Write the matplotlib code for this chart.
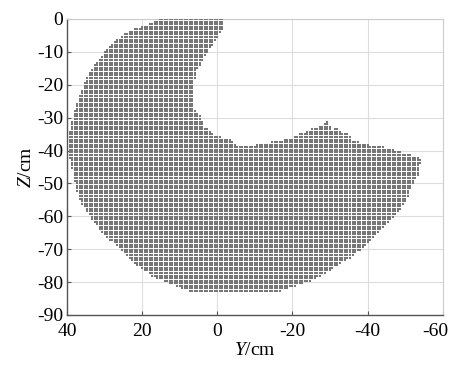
import numpy as np
import matplotlib
matplotlib.use("Agg")
import matplotlib.pyplot as plt
import matplotlib.transforms as mtransforms
from matplotlib.path import Path

# Boundary of the reachable region (Y cm, Z cm)
boundary_y = [15.3, 10.0, 5.0, 1.0, -1.4, -1.2, 1.1, 3.7, 5.5, 6.4, 6.6, 6.4, 4.6, 3.7, 0.2,
              -3.4, -6.0, -10.9, -15.9, -19.4, -21.2, -23.9, -26.5, -28.3, -29.5, -30.5,
              -31.9, -33.2, -34.5, -35.9, -39.0, -41.6, -45.2, -47.9, -54.0, -53.6, -52.2,
              -50.6, -47.9, -43.4, -39.0, -35.4, -30.0, -24.7, -19.4, -14.6, 4.6, 8.1,
              12.6, 17.1, 22.5, 26.8, 31.3, 34.5, 36.6, 38.0, 39.3, 39.3, 38.2, 37.1,
              35.3, 33.1, 29.4, 26.8, 22.7, 18.7]
boundary_z = [0.0, 0.0, 0.0, 0.0, 0.0, -3.3, -7.4, -11.5, -15.5, -19.6, -24.6, -27.7, -29.7,
              -32.7, -35.8, -36.8, -39.1, -38.3, -37.3, -36.3, -35.6, -34.3, -33.0, -32.2,
              -31.2, -34.3, -33.2, -35.3, -34.7, -37.0, -38.0, -38.8, -39.3, -40.3, -42.3,
              -47.5, -49.0, -54.0, -59.0, -64.0, -69.2, -72.3, -76.3, -79.4, -81.5, -83.3,
              -83.3, -82.4, -80.3, -78.3, -74.0, -69.0, -64.0, -59.0, -55.0, -49.0, -42.0,
              -34.7, -28.6, -24.6, -19.5, -14.6, -9.4, -6.4, -3.3, -1.8]

# Sampling steps of the point grid (cm)
step_y = 0.667
step_z = 0.78

x_ticks = [40, 20, 0, -20, -40, -60]
z_ticks = [0, -10, -20, -30, -40, -50, -60, -70, -80, -90]

plt.rcParams['font.family'] = ['Liberation Serif', 'DejaVu Serif']
plt.rcParams['mathtext.fontset'] = 'custom'
plt.rcParams['mathtext.it'] = 'Liberation Serif:italic'
plt.rcParams['mathtext.rm'] = 'Liberation Serif'

fig = plt.figure(figsize=(4.54, 3.65), dpi=100)
ax = fig.add_axes([0.148, 0.137, 0.827, 0.811])

gy = np.arange(-54.0, 40.0 + 1e-9, step_y)
gz = -np.arange(0.0, 84.0, step_z)
YY, ZZ = np.meshgrid(gy, gz)
pts = np.column_stack([YY.ravel(), ZZ.ravel()])
poly = Path(np.column_stack([boundary_y, boundary_z]), closed=False)
inside = poly.contains_points(pts, radius=0.3)
sel = pts[inside]

ax.scatter(sel[:, 0], sel[:, 1], s=0.8, marker='s', c='#767676', linewidths=0, zorder=3)

ax.set_xlim(40, -60)
ax.set_ylim(-90, 0)
ax.set_xticks(x_ticks)
ax.set_yticks(z_ticks)
ax.set_xticklabels([str(v) for v in x_ticks])
ax.set_yticklabels([str(v) for v in z_ticks])
ax.grid(True, color='#dddddd', linewidth=0.8, zorder=0)
ax.set_axisbelow(True)
ax.tick_params(direction='in', length=3, labelsize=14, color='#555555')
ax.tick_params(axis='y', pad=3)
ax.tick_params(axis='x', pad=6)
for s in ['left', 'bottom']:
    ax.spines[s].set_color('#555555')
    ax.spines[s].set_linewidth(1.0)
for s in ['top', 'right']:
    ax.spines[s].set_color('#cccccc')
    ax.spines[s].set_linewidth(0.8)

# last x tick label sits slightly left of its gridline in the reference
last = ax.get_xticklabels()[-1]
last.set_transform(last.get_transform() + mtransforms.ScaledTranslation(-0.07, 0, fig.dpi_scale_trans))

ax.set_xlabel(r'$\mathit{Y}$/cm', fontsize=14, labelpad=1)
ax.set_ylabel(r'$\mathit{Z}$/cm', fontsize=14, labelpad=1)

fig.savefig('out.png', dpi=100)
